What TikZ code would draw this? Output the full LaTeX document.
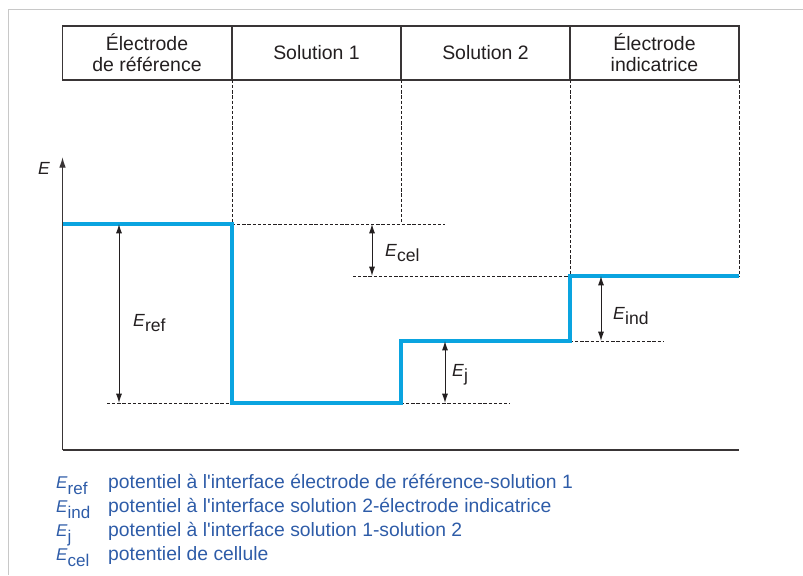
\documentclass[tikz,border=0pt]{standalone}
\usepackage{fontspec}
\setmainfont{Liberation Sans}[Ligatures=TeXOff]
\usetikzlibrary{arrows.meta}
\definecolor{ink}{HTML}{231F20}
\definecolor{level}{HTML}{0AA4E0}
\definecolor{legend}{HTML}{2E5CA8}
\definecolor{framegray}{HTML}{C8C8C8}
\newcommand{\Epot}[2][-0.3em]{\textit{E}\raisebox{#1}{#2}}
\tikzset{
  frame/.style={
    draw=framegray,
    line width=0.8pt
  },
  cellbox/.style={
    draw=ink!90,
    line width=1.1pt
  },
  head/.style={
    text=ink,
    font=\fontsize{16.6}{18}\selectfont,
    align=center
  },
  guide/.style={
    draw=ink,
    line width=0.85pt,
    dash pattern=on 2.8pt off 1.6pt
  },
  levelline/.style={
    draw=level,
    line width=3.4pt
  },
  axis/.style={
    draw=ink!90,
    line width=1.1pt
  },
  dim/.style={
    {Latex[length=2.8mm,width=1.8mm]}-{Latex[length=2.8mm,width=1.8mm]},
    draw=ink,
    line width=0.85pt
  },
  elabel/.style={
    text=ink,
    font=\fontsize{15}{18}\selectfont,
    inner sep=0pt,
    anchor=base west
  },
  legsym/.style={
    text=legend,
    font=\fontsize{14.5}{17}\selectfont,
    inner sep=0pt,
    anchor=base west
  },
  legtext/.style={
    text=legend,
    font=\fontsize{16.5}{19}\selectfont,
    inner sep=0pt,
    anchor=base west
  }
}

\begin{document}
\begin{tikzpicture}[x=0.03cm,y=-0.03cm]
  \useasboundingbox (0,0) rectangle (803,575);
  % Screenshot frame
  \draw[frame] (8,575) -- (8,9) -- (803,9);

  % Header of the cell
  \draw[cellbox] (62.5,26) rectangle (739,80);
  \foreach \x in {232,401,570} {
    \draw[cellbox] (\x,26) -- (\x,80);
  }
  \node[head] (refcell) at (147,53) {Électrode\\de référence};
  \node[head] (sol1cell) at (316.5,53) {Solution 1};
  \node[head] (sol2cell) at (485.5,53) {Solution 2};
  \node[head] (indcell) at (654.5,53) {Électrode\\indicatrice};

  % Potential levels
  \coordinate (start) at (62.5,224);
  \coordinate (refstep) at (232,224);
  \coordinate (sol1low) at (232,403);
  \coordinate (sol1end) at (401,403);
  \coordinate (sol2low) at (401,341);
  \coordinate (sol2end) at (570,341);
  \coordinate (indlow) at (570,276);
  \coordinate (indend) at (739,276);

  % Dashed guides
  \draw[guide] (232,80) -- (refstep);
  \draw[guide] (401,80) -- (401,224);
  \draw[guide] (570,80) -- (indlow);
  \draw[guide] (739,80) -- (indend);
  \draw[guide] (refstep) -- (445,224);
  \draw[guide] (353,276) -- (indlow);
  \draw[guide] (sol2end) -- (663,341);
  \draw[guide] (107,403) -- (sol1low);
  \draw[guide] (sol1end) -- (510,403);

  \draw[levelline] (start) -- (refstep) -- (sol1low) -- (sol1end)
    -- (sol2low) -- (sol2end) -- (indlow) -- (indend);

  % Axes
  \coordinate (origin) at (62.5,450);
  \coordinate (xend) at (739,450);
  \coordinate (ytip) at (62.5,157);
  \draw[axis] (origin) -- (xend);
  \draw[axis, -{Latex[length=3.2mm,width=2mm]}] (origin) -- (ytip);
  \node[text=ink, font=\fontsize{15}{18}\itshape] (eaxis) at (44,168) {E};

  % Potential differences
  \coordinate (reftop) at (119,224);
  \coordinate (refbot) at (119,403);
  \coordinate (celtop) at (372,224);
  \coordinate (celbot) at (372,276);
  \coordinate (jtop) at (445,341);
  \coordinate (jbot) at (445,403);
  \coordinate (indtop) at (601,276);
  \coordinate (indbot) at (601,341);
  \draw[dim] (reftop) -- (refbot);
  \draw[dim] (celtop) -- (celbot);
  \draw[dim] (jtop) -- (jbot);
  \draw[dim] (indtop) -- (indbot);
  \node[elabel] (eref) at (133,326) {\Epot{ref}};
  \node[elabel] (ecel) at (385,256) {\Epot{cel}};
  \node[elabel] (ej) at (452,376) {\Epot{j}};
  \node[elabel] (eind) at (613,319) {\Epot{ind}};

  % Legend
  \node[legsym] (legref) at (56,488) {\Epot[-0.4em]{ref}};
  \node[legtext] (txtref) at (108,488) {potentiel à l'interface électrode de référence-solution 1};
  \node[legsym] (legind) at (56,512) {\Epot[-0.4em]{ind}};
  \node[legtext] (txtind) at (108,512) {potentiel à l'interface solution 2-électrode indicatrice};
  \node[legsym] (legj) at (56,536) {\Epot[-0.4em]{j}};
  \node[legtext] (txtj) at (108,536) {potentiel à l'interface solution 1-solution 2};
  \node[legsym] (legcel) at (56,560) {\Epot[-0.4em]{cel}};
  \node[legtext] (txtcel) at (108,560) {potentiel de cellule};
\end{tikzpicture}
\end{document}
